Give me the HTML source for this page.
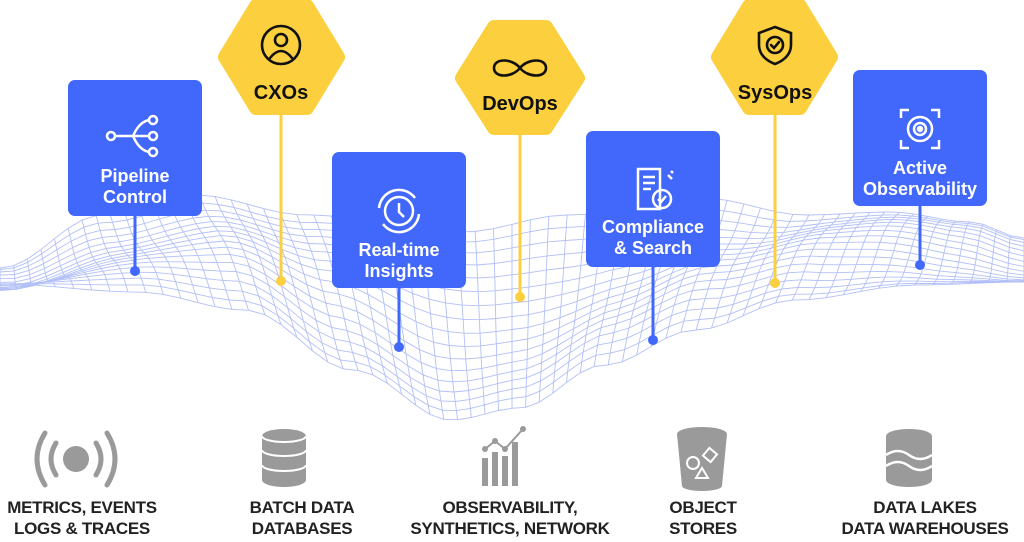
<!DOCTYPE html>
<html><head><meta charset="utf-8"><style>
html,body{margin:0;padding:0;background:#fff}
#c{position:relative;width:1024px;height:542px;overflow:hidden;font-family:"Liberation Sans",sans-serif}
.box{position:absolute;width:134px;height:136px;background:#4167fb;border-radius:7px;color:#fff;text-align:center;font-weight:bold;font-size:18px;line-height:21px}
.box svg{display:block;margin:34px auto 8px}
.lbl{position:absolute;text-align:center;font-weight:bold;font-size:17px;line-height:21px;color:#222;letter-spacing:-0.3px}
</style></head><body><div id="c">
<svg id="mesh" width="1024" height="542" style="position:absolute;left:0;top:0"></svg>
<svg width="1024" height="542" style="position:absolute;left:0;top:0">
<g stroke-width="3">
<line x1="135" y1="210" x2="135" y2="270" stroke="#4167fb"/><circle cx="135" cy="271" r="5" fill="#4167fb"/>
<line x1="399" y1="280" x2="399" y2="346" stroke="#4167fb"/><circle cx="399" cy="347" r="5" fill="#4167fb"/>
<line x1="653" y1="260" x2="653" y2="339" stroke="#4167fb"/><circle cx="653" cy="340" r="5" fill="#4167fb"/>
<line x1="920" y1="200" x2="920" y2="264" stroke="#4167fb"/><circle cx="920" cy="265" r="5" fill="#4167fb"/>
<line x1="281" y1="110" x2="281" y2="280" stroke="#fccf3e"/><circle cx="281" cy="281" r="5" fill="#fccf3e"/>
<line x1="520" y1="130" x2="520" y2="296" stroke="#fccf3e"/><circle cx="520" cy="297" r="5" fill="#fccf3e"/>
<line x1="775" y1="110" x2="775" y2="282" stroke="#fccf3e"/><circle cx="775" cy="283" r="5" fill="#fccf3e"/>
</g>
<g fill="#fccf3e" stroke="#fccf3e" stroke-width="14" stroke-linejoin="round">
<polygon points="256,6 307,6 338,57 307,108 256,108 225,57"/>
<polygon points="494,27 546,27 578,78 546,128 494,128 462,78"/>
<polygon points="749,6 800,6 831,57 800,108 749,108 718,57"/>
</g>
<g fill="none" stroke="#111" stroke-width="2.6" stroke-linecap="round">
<circle cx="281" cy="45" r="19"/><circle cx="281" cy="40" r="6"/><path d="M270 58 q11-14 22 0"/>
<path d="M520 68 c-8-10-26-10-26 0 c0 10 18 10 26 0 c8-10 26-10 26 0 c0 10-18 10-26 0"/>
<path d="M775 27 l16 6 v12 c0 10-8 16-16 19 c-8-3-16-9-16-19 v-12z"/><circle cx="775" cy="45" r="8"/><path d="M771 45 l3 3 l5-6"/>
</g>
<g font-weight="bold" font-size="20" fill="#111" text-anchor="middle" font-family="Liberation Sans,sans-serif">
<text x="281" y="99">CXOs</text><text x="520" y="110">DevOps</text><text x="775" y="99">SysOps</text>
</g>
<g fill="#9a9a9a" stroke="#9a9a9a">
<circle cx="76" cy="459" r="13" stroke="none"/>
<g fill="none" stroke-width="5" stroke-linecap="round"><path d="M56 443 q-10 16 0 32"/><path d="M96 443 q10 16 0 32"/><path d="M45 433 q-16 26 0 52"/><path d="M107 433 q16 26 0 52"/></g>
<path d="M262 436 a22 7 0 0 1 44 0 v44 a22 7 0 0 1-44 0z" stroke="none"/>
<g stroke="#fff" stroke-width="2" fill="none"><path d="M262 450 a22 6 0 0 0 44 0"/><path d="M262 465 a22 6 0 0 0 44 0"/><path d="M262 436 a22 6 0 0 0 44 0"/></g>
<rect x="482" y="458" width="6" height="28" stroke="none"/><rect x="492" y="452" width="6" height="34" stroke="none"/><rect x="502" y="456" width="6" height="30" stroke="none"/><rect x="512" y="442" width="6" height="44" stroke="none"/>
<g fill="none" stroke-width="2"><path d="M485 449 L495 441 L505 449 L523 429"/></g>
<circle cx="485" cy="449" r="3" stroke="none"/><circle cx="495" cy="441" r="3" stroke="none"/><circle cx="505" cy="449" r="3" stroke="none"/><circle cx="523" cy="429" r="3" stroke="none"/>
<path d="M677 434 a25 7 0 0 1 50 0 l-5 52 a20 5 0 0 1-40 0z" stroke="none"/>
<g fill="none" stroke="#fff" stroke-width="2"><circle cx="693" cy="463" r="6"/><rect x="705" y="450" width="10" height="10" transform="rotate(40 710 455)"/><path d="M696 478 l6-10 l6 10z"/></g>
<path d="M886 436 a23 7 0 0 1 46 0 v44 a23 7 0 0 1-46 0z" stroke="none"/>
<g fill="none" stroke="#fff" stroke-width="2.5"><path d="M886 455 q12-8 23 0 t23 0"/><path d="M886 466 q12-8 23 0 t23 0"/></g>
</g>
</svg>
<div class="box" style="left:68px;top:80px"><svg width="60" height="46" viewBox="0 0 60 46" fill="none" stroke="#fff" stroke-width="2.5"><circle cx="6" cy="22" r="4"/><line x1="10" y1="22" x2="44" y2="22"/><path d="M28 22 q6-14 16-16 M28 22 q6 14 16 16"/><circle cx="48" cy="6" r="4"/><circle cx="48" cy="22" r="4"/><circle cx="48" cy="38" r="4"/></svg><div style="margin-top:-2px">Pipeline<br>Control</div></div>
<div class="box" style="left:332px;top:152px"><svg width="50" height="50" viewBox="0 0 50 50" fill="none" stroke="#fff" stroke-width="2.5"><circle cx="25" cy="25" r="14"/><path d="M25 17 v9 l5 5"/><path d="M5 22 a20 20 0 0 1 36-10 M45 28 a20 20 0 0 1-36 10"/></svg><div style="margin-top:-4px">Real-time<br>Insights</div></div>
<div class="box" style="left:586px;top:131px"><svg width="50" height="48" viewBox="0 0 50 48" fill="none" stroke="#fff" stroke-width="2.5"><path d="M10 4 h22 v40 h-22z"/><path d="M15 12 h12 M15 18 h12 M15 24 h8"/><circle cx="34" cy="34" r="9"/><path d="M30 34 l3 3 l5-6 M40 10 l4 4 M43 6 l2 2"/></svg><div style="margin-top:-4px">Compliance<br>&amp; Search</div></div>
<div class="box" style="left:853px;top:70px"><svg width="50" height="50" viewBox="0 0 50 50" fill="none" stroke="#fff" stroke-width="2.5"><path d="M6 14 v-8 h8 M36 6 h8 v8 M44 36 v8 h-8 M14 44 h-8 v-8"/><circle cx="25" cy="25" r="12"/><circle cx="25" cy="25" r="6"/><circle cx="25" cy="25" r="2" fill="#fff"/></svg><div style="margin-top:-4px">Active<br>Observability</div></div>
<div class="lbl" style="left:0;width:164px;top:497px">METRICS, EVENTS<br>LOGS &amp; TRACES</div>
<div class="lbl" style="left:220px;width:164px;top:497px">BATCH DATA<br>DATABASES</div>
<div class="lbl" style="left:400px;width:220px;top:497px">OBSERVABILITY,<br>SYNTHETICS, NETWORK</div>
<div class="lbl" style="left:640px;width:126px;top:497px">OBJECT<br>STORES</div>
<div class="lbl" style="left:830px;width:190px;top:497px">DATA LAKES<br>DATA WAREHOUSES</div>
</div>
<script>
(function(){
var s=document.getElementById('mesh'),N=64,M=16,d='';
function interp(pts,x){for(var i=0;i<pts.length-1;i++){var a=pts[i],b=pts[i+1];if(x<=b[0]){var t=(x-a[0])/(b[0]-a[0]);t=(1-Math.cos(t*Math.PI))/2;return a[1]+(b[1]-a[1])*t;}}return pts[pts.length-1][1];}
var B=[[0,268],[120,215],[220,195],[330,215],[470,232],[560,215],[680,198],[780,215],[870,212],[960,222],[1024,238]];
var F=[[0,284],[120,292],[220,310],[330,370],[440,420],[520,408],[620,365],[720,330],[820,300],[930,285],[1024,282]];
function P(u,v){
 var X=u*1024;
 var x=X+(v-0.5)*50*Math.sin(u*6.28);
 var b=interp(B,X),f=interp(F,X);
 var bump=14*Math.sin(v*Math.PI)*Math.sin(u*12+v*3);
 var y=b+(f-b)*v+bump;
 return [x.toFixed(1),y.toFixed(1)];
}
for(var j=0;j<=M;j++){var v=j/M;d+='M';for(var i=0;i<=N;i++){var p=P(i/N,v);d+=(i?' L':'')+p[0]+' '+p[1];}}
for(var i=0;i<=N;i++){var u=i/N;d+='M';for(var j=0;j<=M;j++){var p=P(u,j/M);d+=(j?' L':'')+p[0]+' '+p[1];}}
var path=document.createElementNS('http://www.w3.org/2000/svg','path');
path.setAttribute('d',d);path.setAttribute('fill','none');path.setAttribute('stroke','#b3c0f7');path.setAttribute('stroke-width','0.9');
s.appendChild(path);
})();
</script>
</body></html>
